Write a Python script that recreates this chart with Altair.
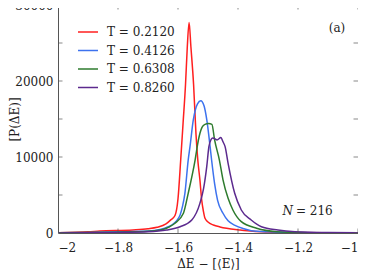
import altair as alt
import pandas as pd

# ---- data ----
temps = ["T = 0.2120", "T = 0.4126", "T = 0.6308", "T = 0.8260"]
colors = ["#ff1f1f", "#3d72ee", "#2e7b2e", "#5c2a8e"]

x_red = [-2.00, -1.90, -1.86, -1.75, -1.70, -1.67, -1.64, -1.625, -1.61, -1.60, -1.591, -1.583,
         -1.575, -1.569, -1.563, -1.557, -1.548, -1.54, -1.534, -1.527, -1.521, -1.515, -1.51,
         -1.50, -1.482, -1.46, -1.438, -1.393, -1.35, -1.30, -1.20, -1.10, -1.00]
y_red = [40, 150, 250, 400, 560, 750, 1200, 1700, 2300, 4500, 9600, 14500,
         19500, 24500, 27700, 24500, 19500, 13000, 9600, 7000, 4340, 2800, 1930,
         1450, 1050, 800, 620, 390, 220, 130, 60, 30, 15]

x_blue = [-2.00, -1.90, -1.80, -1.70, -1.66, -1.64, -1.621, -1.605, -1.593, -1.585, -1.577, -1.566,
          -1.56, -1.549, -1.535, -1.524, -1.513, -1.504, -1.493, -1.488, -1.478, -1.468, -1.45,
          -1.433, -1.41, -1.38, -1.356, -1.30, -1.20, -1.10, -1.00]
y_blue = [30, 80, 150, 250, 450, 700, 1050, 1600, 2370, 3500, 5220, 9600,
          11360, 14870, 17000, 17400, 16700, 14870, 11360, 9600, 6500, 4300, 2600,
          1600, 1000, 550, 300, 150, 60, 30, 15]

x_green = [-2.00, -1.90, -1.80, -1.70, -1.649, -1.627, -1.61, -1.582, -1.566, -1.543, -1.532, -1.52,
           -1.51, -1.498, -1.487, -1.478, -1.462, -1.45, -1.433, -1.417, -1.389, -1.338, -1.271,
           -1.20, -1.10, -1.00]
y_green = [20, 50, 110, 220, 490, 850, 1280, 2590, 5220, 9600, 12240, 13900,
           14300, 14400, 14300, 12240, 9600, 7000, 4560, 3030, 1490, 620, 170,
           70, 30, 15]

x_purple = [-2.00, -1.90, -1.80, -1.70, -1.638, -1.593, -1.554, -1.527, -1.515, -1.504, -1.497, -1.49,
            -1.484, -1.47, -1.457, -1.45, -1.443, -1.433, -1.411, -1.389, -1.356, -1.322, -1.267,
            -1.21, -1.10, -1.00]
y_purple = [15, 35, 80, 160, 390, 830, 1710, 3900, 5800, 8800, 11360, 12300,
            12500, 12250, 12550, 12000, 11360, 9170, 5220, 3030, 1710, 830, 390,
            170, 50, 20]

x_ticks = [-2.0, -1.8, -1.6, -1.4, -1.2, -1.0]
y_ticks = [0, 5000, 10000, 15000, 20000, 25000, 30000]

FONT = "DejaVu Serif"
FS = 12
FRAME = "#555555"

rows = []
for name, xs, ys in zip(temps, [x_red, x_blue, x_green, x_purple], [y_red, y_blue, y_green, y_purple]):
    for xv, yv in zip(xs, ys):
        rows.append({"x": xv, "y": yv, "T": name})
df = pd.DataFrame(rows)

xscale = alt.Scale(domain=[-2, -1], nice=False, zero=False)
yscale = alt.Scale(domain=[0, 30000], nice=False)

lines = alt.Chart(df).mark_line(strokeWidth=1.5, interpolate="monotone", clip=True).encode(
    x=alt.X("x:Q", scale=xscale,
            axis=alt.Axis(values=x_ticks, format=".1~f", title="ΔE − [⟨E⟩]", grid=False,
                          domain=False, ticks=False, labelPadding=9, titlePadding=5)),
    y=alt.Y("y:Q", scale=yscale,
            axis=alt.Axis(values=y_ticks, format="d", title="[P(ΔE)]", grid=False,
                          domain=False, ticks=False, labelPadding=5,
                          titleX=-44, titleBaseline="middle", titleAlign="center")),
    color=alt.Color("T:N", scale=alt.Scale(domain=temps, range=colors),
                    legend=alt.Legend(title=None, orient="none", legendX=19, legendY=16,
                                      symbolType="stroke", symbolSize=400, symbolStrokeWidth=1.5,
                                      labelFontSize=FS, labelFont=FONT, labelColor="#222",
                                      labelOffset=8, rowPadding=1.5, padding=0)),
)

xt_df = pd.DataFrame([{"x": v, "y": b} for v in x_ticks for b in (0, 30000)])
yt_df = pd.DataFrame([{"x": b, "y": v} for v in y_ticks for b in (-2, -1)])

xt = alt.Chart(xt_df).mark_tick(orient="vertical", size=9, thickness=1, color=FRAME, clip=True).encode(
    x=alt.X("x:Q", scale=xscale), y=alt.Y("y:Q", scale=yscale))
yt = alt.Chart(yt_df).mark_tick(orient="horizontal", size=9, thickness=1, color=FRAME, clip=True).encode(
    x=alt.X("x:Q", scale=xscale), y=alt.Y("y:Q", scale=yscale))

ann_a = alt.Chart(pd.DataFrame({"x": [-1.07], "y": [26970], "t": ["(a)"]})).mark_text(
    font=FONT, fontSize=FS, color="#222", align="center", baseline="middle").encode(
    x=alt.X("x:Q", scale=xscale), y=alt.Y("y:Q", scale=yscale), text="t:N")

ann_n1 = alt.Chart(pd.DataFrame({"x": [-1.207], "y": [2930], "t": ["N"]})).mark_text(
    font=FONT, fontSize=FS, fontStyle="italic", color="#222", align="right", baseline="middle", dx=-3).encode(
    x=alt.X("x:Q", scale=xscale), y=alt.Y("y:Q", scale=yscale), text="t:N")
ann_n2 = alt.Chart(pd.DataFrame({"x": [-1.207], "y": [2930], "t": ["= 216"]})).mark_text(
    font=FONT, fontSize=FS, color="#222", align="left", baseline="middle").encode(
    x=alt.X("x:Q", scale=xscale), y=alt.Y("y:Q", scale=yscale), text="t:N")

chart = alt.layer(lines, xt, yt, ann_a, ann_n1, ann_n2).properties(
    width=300, height=228,
    autosize=alt.AutoSizeParams(type="none"),
    padding={"left": 50, "top": -3, "right": 0, "bottom": 40},
).configure_view(stroke=FRAME, strokeWidth=1).configure_axis(
    labelFont=FONT, labelFontSize=FS, labelColor="#222", titleFont=FONT, titleFontSize=FS,
    titleFontWeight="normal", titleColor="#222"
)

chart.save("out.html", embed_options={"renderer": "svg", "actions": False})
